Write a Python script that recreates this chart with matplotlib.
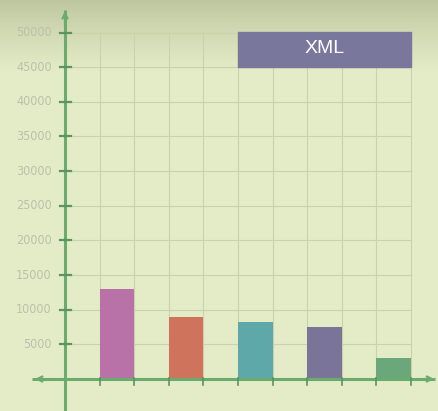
import numpy as np
import matplotlib.pyplot as plt
from matplotlib.patches import Rectangle

# datos
values = [13000, 9000, 8200, 7500, 3000]
bar_colors = ['#b872a8', '#d0735c', '#5fa8aa', '#7a7598', '#6aa87c']
y_ticks = [5000, 10000, 15000, 20000, 25000, 30000, 35000, 40000, 45000, 50000]
legend_label = 'XML'

W, H = 438, 411
fig = plt.figure(figsize=(W / 100, H / 100), dpi=100)
ax = fig.add_axes([0, 0, 1, 1])

# escala: eje y en x=65px, x=0 en y=379px, celda de 34.6px
px_x, px_y = 34.6, 34.65 / 5000
x0, y0 = 65, 379
xlim = (-x0 / px_x, (W - x0) / px_x)
ylim = (-(H - y0) / px_y, y0 / px_y)
ax.axis('off')

# fondo con degradado (arriba más oscuro)
grad = np.linspace(0, 1, 256)[:, None]
top = np.array([0.74, 0.77, 0.62])
base = np.array([0.898, 0.929, 0.784])
t = np.clip(grad / 0.18, 0, 1) ** 0.8
img = top * (1 - t[..., None]) + base * t[..., None]
img = np.repeat(img, 2, axis=1)
ax.imshow(img, extent=[xlim[0], xlim[1], ylim[0], ylim[1]],
          aspect='auto', zorder=0, origin='upper')
ax.set_xlim(*xlim)
ax.set_ylim(*ylim)

# rejilla
grid_c = '#cad1ab'
ax.hlines(y_ticks, 0, 10, colors=grid_c, lw=0.8, zorder=1)
ax.vlines(np.arange(1, 11), 0, 50000, colors=grid_c, lw=0.8, zorder=1)

# barras
xs = np.arange(len(values)) * 2 + 1.5
ax.bar(xs, values, width=1.0, color=bar_colors, zorder=2)

# ejes con flechas
axis_c = '#6aab6e'
ax.plot([-0.95, 10.7], [0, 0], color=axis_c, lw=2.2, zorder=3, solid_capstyle='butt')
ax.plot([0, 0], [-4800, 53300], color=axis_c, lw=2.2, zorder=3, solid_capstyle='butt')
arrow = dict(arrowstyle='->', color=axis_c, lw=1.6, mutation_scale=9)
ax.annotate('', xy=(-0.95, 0), xytext=(-0.5, 0), arrowprops=arrow, zorder=3)
ax.annotate('', xy=(10.75, 0), xytext=(10.3, 0), arrowprops=arrow, zorder=3)
ax.annotate('', xy=(0, 53500), xytext=(0, 50500), arrowprops=arrow, zorder=3)
ax.annotate('', xy=(0, -4900), xytext=(0, -2000), arrowprops=arrow, zorder=3)

# marcas
tick_c = '#5a9460'
for v in y_ticks:
    ax.plot([-0.15, 0.17], [v, v], color=tick_c, lw=1.6, zorder=4)
    ax.text(-0.38, v, str(v), ha='right', va='center', fontsize=9,
            color='#bcc0ac', family='DejaVu Sans', fontstretch='condensed')
for i in range(1, 11):
    ax.plot([i, i], [-900, 200], color=tick_c, lw=1.2, zorder=4)

# leyenda
ax.add_patch(Rectangle((5, 45000), 5, 5000, color='#79779b', zorder=5))
ax.text(7.5, 47700, legend_label, ha='center', va='center', fontsize=14,
        color='white', family='Liberation Sans', zorder=6)

fig.savefig('out.png', dpi=100)
